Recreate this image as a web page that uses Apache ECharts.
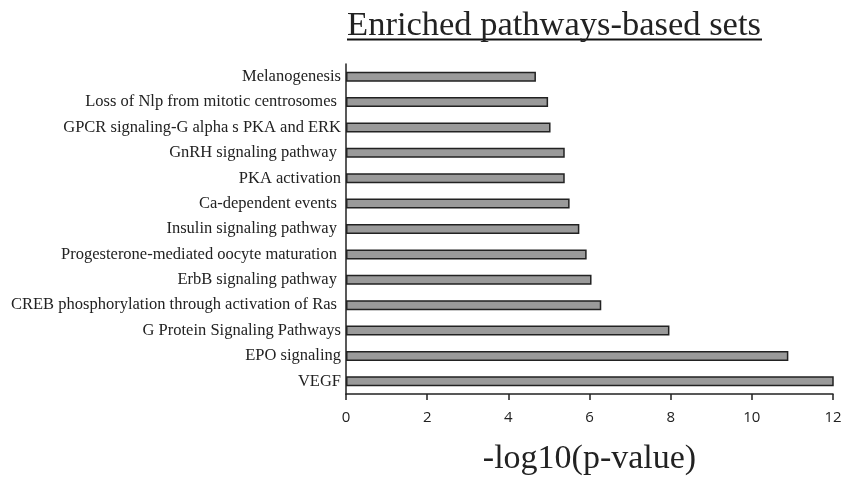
<!DOCTYPE html>
<html>
<head>
<meta charset="utf-8">
<script src="https://cdn.jsdelivr.net/npm/echarts@6/dist/echarts.min.js"></script>
<style>html,body{margin:0;padding:0;background:#fff}#c{width:845px;height:477px}</style>
</head>
<body>
<div id="c"></div>
<script>
// Categories listed top to bottom
const categories = [
  "Melanogenesis",
  "Loss of Nlp from mitotic centrosomes ",
  "GPCR signaling-G alpha s PKA and ERK",
  "GnRH signaling pathway ",
  "PKA activation",
  "Ca-dependent events ",
  "Insulin signaling pathway ",
  "Progesterone-mediated oocyte maturation ",
  "ErbB signaling pathway ",
  "CREB phosphorylation through activation of Ras ",
  "G Protein Signaling Pathways",
  "EPO signaling",
  "VEGF"
];
const values = [4.68, 4.98, 5.04, 5.39, 5.39, 5.51, 5.75, 5.93, 6.05, 6.29, 7.97, 10.9, 12.04];
const xTicks = [0, 2, 4, 6, 8, 10, 12];
const titleText = "Enriched pathways-based sets";
const xName = "-log10(p-value)";

const chart = echarts.init(document.getElementById('c'));
chart.setOption({
  animation: false,
  backgroundColor: '#fff',
  title: {
    text: titleText,
    left: 549,
    textAlign: 'center',
    top: 3,
    textStyle: { fontFamily: 'Liberation Serif', fontSize: 34.5, fontWeight: 'normal', color: '#222' }
  },
  graphic: [{
    type: 'line',
    shape: { x1: 347, y1: 39.5, x2: 762, y2: 39.5 },
    style: { stroke: '#111', lineWidth: 2 }
  }],
  grid: { left: 346, right: 12, top: 64, bottom: 83, outerBoundsMode: 'none', containLabel: false },
  xAxis: {
    type: 'value',
    min: 0, max: 12, interval: 2,
    name: xName,
    nameLocation: 'middle',
    nameGap: 48,
    nameTextStyle: { fontFamily: 'Liberation Serif', fontSize: 34, color: '#222' },
    axisLine: { show: true, lineStyle: { color: '#222', width: 1.5 } },
    axisTick: { show: true, length: 6, lineStyle: { color: '#222', width: 1.5 } },
    axisLabel: {
      fontFamily: 'Open Sans', fontSize: 15, color: '#222', margin: 16,
      formatter: v => xTicks.includes(v) ? String(v) : ''
    },
    splitLine: { show: false }
  },
  yAxis: {
    type: 'category',
    data: categories,
    inverse: true,
    axisLine: { show: true, lineStyle: { color: '#222', width: 1.5 } },
    axisTick: { show: false },
    axisLabel: { fontFamily: 'Liberation Serif', fontSize: 16.5, color: '#222', margin: 5, interval: 0 }
  },
  series: [{
    type: 'bar',
    data: values,
    barWidth: 10,
    itemStyle: { color: '#9a9a9a', borderColor: '#222', borderWidth: 1.5 }
  }]
});
</script>
</body>
</html>
